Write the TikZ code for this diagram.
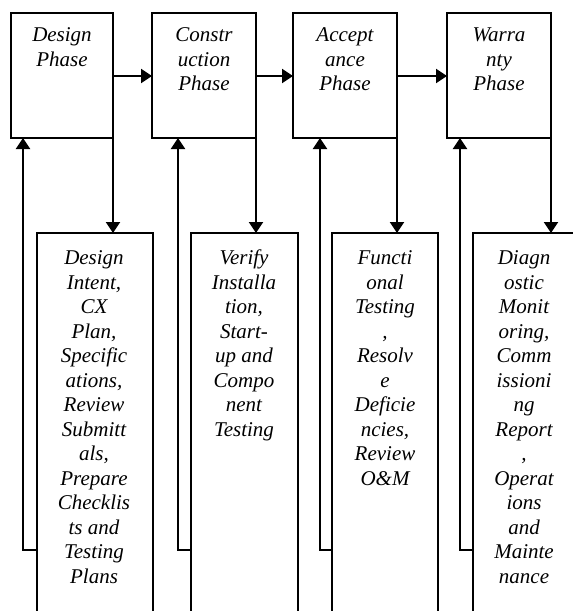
\documentclass[tikz,border=0pt]{standalone}
\usepackage{fontspec}
\setmainfont{Liberation Serif}
\usetikzlibrary{arrows.meta}
\tikzset{
  phasebox/.style={draw=black, line width=1.7pt, inner sep=0pt, outer sep=0pt, minimum height=125pt},
  taskbox/.style={draw=black, line width=1.7pt, inner sep=0pt, outer sep=0pt, minimum height=407pt},
  txt/.style={align=center, inner sep=0pt, anchor=north, font=\fontsize{21}{24.5}\selectfont\itshape},
  arr/.style={line width=2.2pt, -{Triangle[width=14pt,length=11pt]}},
}
\begin{document}
\begin{tikzpicture}[x=1pt,y=-1pt]
\useasboundingbox (0,0) rectangle (573,611);
\clip (0,0) rectangle (573,611);
% phase boxes
\node[phasebox, minimum width=102pt] (p1) at (62,75.5) {};
\node[phasebox, minimum width=104pt] (p2) at (204,75.5) {};
\node[phasebox, minimum width=104pt] (p3) at (345,75.5) {};
\node[phasebox, minimum width=104pt] (p4) at (499,75.5) {};
% task boxes
\node[taskbox, minimum width=116pt] (t1) at (95,436.5) {};
\node[taskbox, minimum width=107pt] (t2) at (244.5,436.5) {};
\node[taskbox, minimum width=106pt] (t3) at (385,436.5) {};
\node[taskbox, minimum width=102pt] (t4) at (524,436.5) {};
% texts
\node[txt] (p1t) at (62,24.5) {\strut Design\\Phase};
\node[txt] (p2t) at (204,24.5) {\strut Constr\\uction\\Phase};
\node[txt] (p3t) at (345,24.5) {\strut Accept\\ance\\Phase};
\node[txt] (p4t) at (499,24.5) {\strut Warra\\nty\\Phase};
\node[txt] (t1t) at (94,247.2) {\strut Design\\Intent,\\CX\\Plan,\\Specific\\ations,\\Review\\Submitt\\als,\\Prepare\\Checklis\\ts and\\Testing\\Plans};
\node[txt] (t2t) at (244,247.2) {\strut Verify\\Installa\\tion,\\Start-\\up and\\Compo\\nent\\Testing};
\node[txt] (t3t) at (385,247.2) {\strut Functi\\onal\\Testing\\,\\Resolv\\e\\Deficie\\ncies,\\Review\\O\&M};
\node[txt] (t4t) at (524,247.2) {\strut Diagn\\ostic\\Monit\\oring,\\Comm\\issioni\\ng\\Report\\,\\Operat\\ions\\and\\Mainte\\nance};
% feedback corners
\coordinate (f1) at (23,550);
\coordinate (f2) at (178,550);
\coordinate (f3) at (320,550);
\coordinate (f4) at (460,550);
% horizontal arrows
\draw[arr] (p1.east |- 0,76) -- (p2.west |- 0,76);
\draw[arr] (p2.east |- 0,76) -- (p3.west |- 0,76);
\draw[arr] (p3.east |- 0,76) -- (p4.west |- 0,76);
% down arrows
\draw[arr] (p1.south east) -- (p1.south east |- t1.north);
\draw[arr] (p2.south east) -- (p2.south east |- t2.north);
\draw[arr] (p3.south east) -- (p3.south east |- t3.north);
\draw[arr] (p4.south east) -- (p4.south east |- t4.north);
% feedback arrows
\draw[arr] (t1.west |- f1) -- (f1) -- (f1 |- p1.south);
\draw[arr] (t2.west |- f2) -- (f2) -- (f2 |- p2.south);
\draw[arr] (t3.west |- f3) -- (f3) -- (f3 |- p3.south);
\draw[arr] (t4.west |- f4) -- (f4) -- (f4 |- p4.south);
\end{tikzpicture}
\end{document}
